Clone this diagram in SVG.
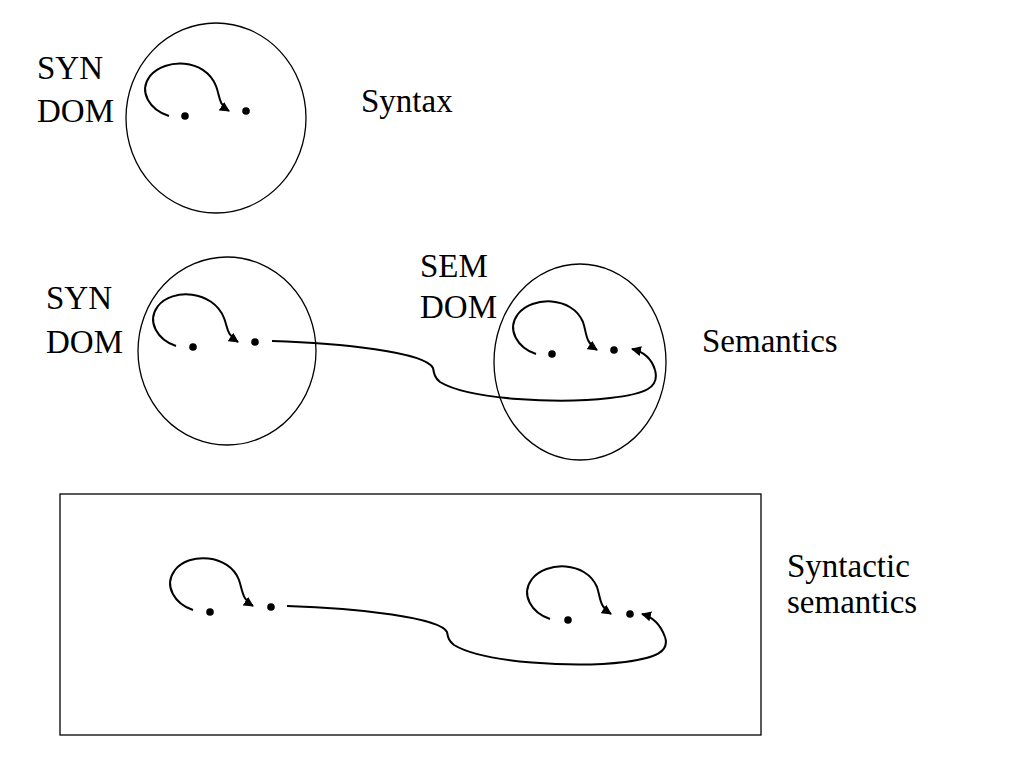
<svg xmlns="http://www.w3.org/2000/svg" width="1024" height="768" viewBox="0 0 1024 768">
<style>
.o{fill:none;stroke:#000;stroke-width:1.3}
.c{fill:none;stroke:#000;stroke-width:2}
.d{fill:#000}
text{font-family:'Liberation Serif','Times New Roman',serif;font-size:33px;fill:#000}
</style>
<defs>
<marker id="ah" viewBox="0 0 10 10" refX="9" refY="5" markerWidth="10" markerHeight="10" markerUnits="userSpaceOnUse" orient="auto">
<path d="M0,0 L10,5 L0,10 Z" fill="#000"/>
</marker>
</defs>
<rect width="1024" height="768" fill="#fff"/>
<g id="syntax-domain">
<ellipse class="o" cx="216" cy="118" rx="90" ry="95"/>
<circle class="d" cx="185" cy="116" r="3.8"/>
<circle class="d" cx="246" cy="111" r="3.8"/>
<text x="37" y="79" font-family="Liberation Serif, serif">SYN</text>
<text x="37" y="122" font-family="Liberation Serif, serif">DOM</text>
</g>
<text id="syntax-label" x="361" y="112" font-family="Liberation Serif, serif">Syntax</text>
<g id="semantics-syn-domain">
<ellipse class="o" cx="227" cy="351" rx="89" ry="94"/>
<circle class="d" cx="193" cy="347" r="3.8"/>
<circle class="d" cx="255" cy="342" r="3.8"/>
<text x="46" y="309" font-family="Liberation Serif, serif">SYN</text>
<text x="46" y="353" font-family="Liberation Serif, serif">DOM</text>
</g>
<g id="semantics-sem-domain">
<ellipse class="o" cx="580" cy="362" rx="86" ry="98"/>
<circle class="d" cx="552" cy="354" r="3.8"/>
<circle class="d" cx="614" cy="350" r="3.8"/>
<text x="420" y="277" font-family="Liberation Serif, serif">SEM</text>
<text x="420" y="318" font-family="Liberation Serif, serif">DOM</text>
</g>
<text id="semantics-label" x="702" y="352" font-family="Liberation Serif, serif">Semantics</text>
<g id="syntactic-semantics-box">
<rect class="o" x="60" y="494" width="701" height="241"/>
<circle class="d" cx="210" cy="612" r="3.8"/>
<circle class="d" cx="271" cy="607" r="3.8"/>
<circle class="d" cx="568" cy="620" r="3.8"/>
<circle class="d" cx="630" cy="614" r="3.8"/>
</g>
<g id="syntactic-semantics-label">
<text x="787" y="577" font-family="Liberation Serif, serif">Syntactic</text>
<text x="787" y="613" font-family="Liberation Serif, serif">semantics</text>
</g>
<g id="connectors">
<path class="c" marker-end="url(#ah)" d="M169,116 C150,110 138,92 150,76 C165,58 205,58 216,86 C220,96 218,104 229,111"/>
<path class="c" marker-end="url(#ah)" d="M176,346 C158,340 146,322 158,306 C172,288 213,290 224,318 C228,328 226,334 238,342"/>
<path class="c" d="M272,341 C340,343 425,352 433,368 C434,374 435,378 440,382 C470,400 560,404 610,398 C645,394 660,388 655,370"/>
<path class="c" marker-end="url(#ah)" d="M655,370 C652,360 645,352 632,349"/>
<path class="c" marker-end="url(#ah)" d="M536,354 C518,348 506,330 518,314 C532,296 572,296 583,322 C587,334 585,342 597,350"/>
<path class="c" marker-end="url(#ah)" d="M193,610 C175,604 163,586 175,570 C189,552 229,554 239,580 C243,592 242,599 253,606"/>
<path class="c" d="M287,606 C360,608 440,618 447,632 C448,638 449,641 454,645 C484,663 575,668 625,662 C655,658 670,652 665,637"/>
<path class="c" marker-end="url(#ah)" d="M665,637 C661,626 653,617 642,614"/>
<path class="c" marker-end="url(#ah)" d="M550,619 C532,613 520,595 532,579 C546,561 586,561 597,587 C601,599 599,606 611,614"/>
</g>
</svg>
